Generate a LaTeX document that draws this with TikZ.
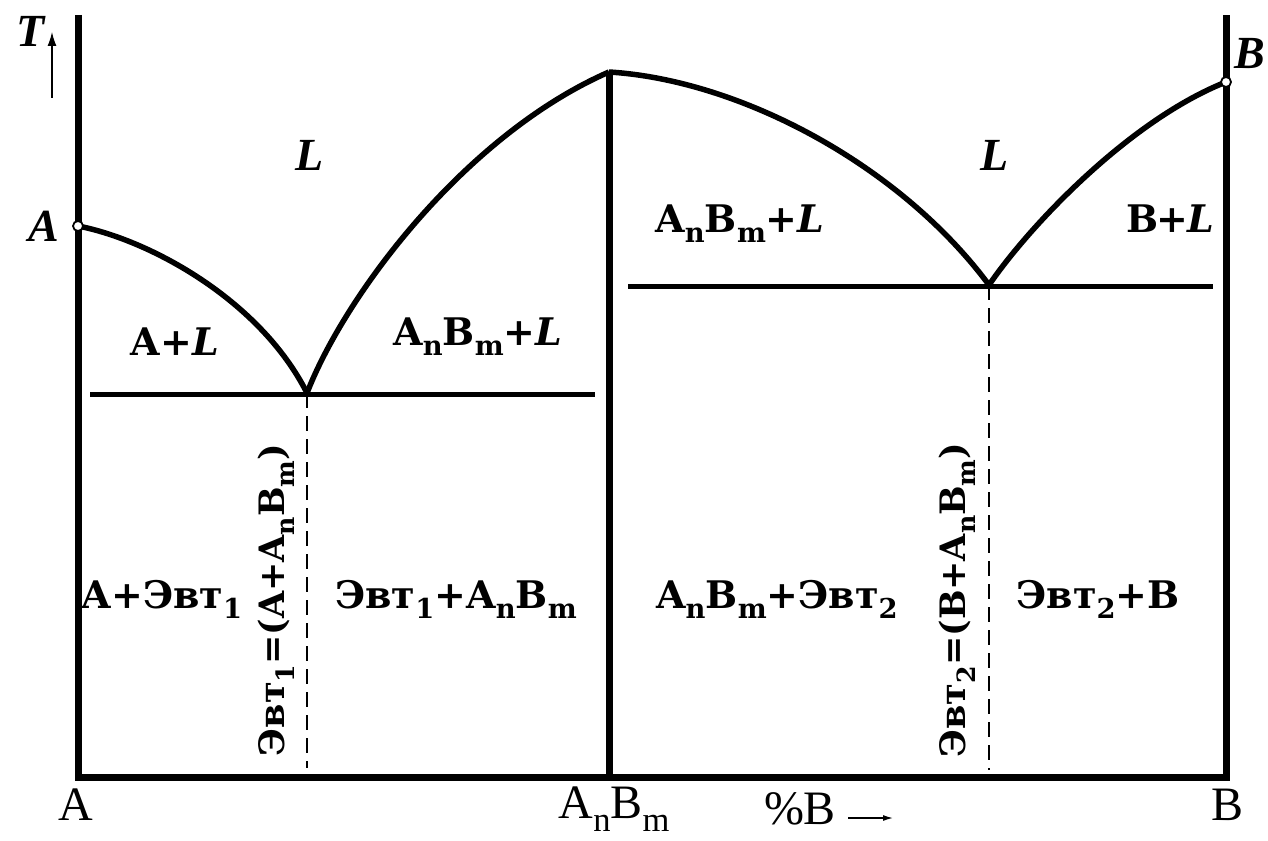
\documentclass[tikz,border=0pt]{standalone}
\usepackage{fontspec}
\usepackage{graphicx}
\setmainfont{DejaVu Serif}
\newfontfamily\libserif{Liberation Serif}
\usetikzlibrary{arrows.meta}
\newcommand\lo[1]{\raisebox{-0.28em}{\scalebox{0.72}{#1}}}
\newcommand\AnBm{A\lo{n}B\lo{m}}
\newcommand\Evt{Эвт}
\begin{document}
\begin{tikzpicture}[x=1pt,y=-1pt,
  axis/.style={line width=7pt},
  phase/.style={line width=5.5pt},
  tie/.style={line width=5pt},
  eut/.style={line width=2.2pt, dash pattern=on 15pt off 8pt},
  lab/.style={font=\fontsize{38}{44}\selectfont\bfseries, inner sep=0pt},
  rlab/.style={font=\fontsize{35}{40}\selectfont\bfseries, inner sep=0pt, rotate=90},
  ital/.style={font=\libserif\fontsize{46}{50}\selectfont\bfseries\itshape, inner sep=0pt},
  bot/.style={font=\libserif\fontsize{48}{52}\selectfont, inner sep=0pt, anchor=base},
  melt/.style={circle, draw, fill=white, line width=1.8pt, minimum size=10pt, inner sep=0pt}]
\useasboundingbox (0,0) rectangle (1268,840);
\fill[white] (0,0) rectangle (1268,840);
% key points
\coordinate (ltop) at (78,15);
\coordinate (O) at (78,777);
\coordinate (rbot) at (1226,777);
\coordinate (rtop) at (1226,15);
\coordinate (peak) at (609,72);
\coordinate (mbot) at (609,777);
\coordinate (e1) at (307,393);
\coordinate (e2) at (989,285);
\coordinate (cA) at (78,226);
\coordinate (cB) at (1226,82);
\coordinate (t1l) at (90,394);
\coordinate (t1r) at (595,394);
\coordinate (t2l) at (628,286);
\coordinate (t2r) at (1213,286);
\coordinate (d1) at (307,768);
\coordinate (d2) at (989,770);
% axes
\draw[axis, miter limit=10] (ltop) -- (O) -- (rbot) -- (rtop);
\draw[axis] (peak) -- (mbot);
% liquidus
\draw[phase] (cA) .. controls (150,240) and (260,300) .. (e1);
\draw[phase] (e1) .. controls (345,295) and (465,135) .. (peak);
\draw[phase] (peak) .. controls (740,80) and (900,165) .. (e2);
\draw[phase] (e2) .. controls (1030,225) and (1130,120) .. (cB);
% eutectic lines
\draw[tie] (t1l) -- (t1r);
\draw[tie] (t2l) -- (t2r);
\draw[eut] (e1) -- (d1);
\draw[eut] (e2) -- (d2);
% melting points
\node[melt] (mA) at (cA) {};
\node[melt] (mB) at (cB) {};
% T axis
\node[ital] (T) at (31,31) {T};
\coordinate (Tb) at (52,98);
\coordinate (Tt) at (52,32);
\draw[line width=1.3pt, -{Latex[length=14pt,width=9pt]}] (Tb) -- (Tt);
\node[ital] (lA) at (44,226) {A};
\node[ital] (lB) at (1250,54) {B};
% region labels
\node[ital, anchor=base] (L1) at (310,170) {L};
\node[ital, anchor=base] (L2) at (995,170) {L};
\node[lab, anchor=base] (r1) at (175,355) {A+\textit{L}};
\node[lab, anchor=base] (r2) at (478,345) {\AnBm+\textit{L}};
\node[lab, anchor=base] (r3) at (740,232) {\AnBm+\textit{L}};
\node[lab, anchor=base east] (r4) at (1214,232) {B\kern-2pt+\kern-1pt\textit{L}};
\node[lab, anchor=base] (r5) at (162,608) {A+\Evt\lo{1}};
\node[lab, anchor=base] (r6) at (456,608) {\Evt\lo{1}+\AnBm};
\node[lab, anchor=base] (r7) at (777,608) {\AnBm+\Evt\lo{2}};
\node[lab, anchor=base] (r8) at (1098,608) {\Evt\lo{2}+B};
\node[rlab] (v1) at (276,600) {\Evt\lo{1}=(A+\AnBm)};
\node[rlab] (v2) at (957,600) {\Evt\lo{2}=(B+\AnBm)};
% bottom labels
\node[bot] (bA) at (76,820) {A};
\node[bot] (bAB) at (614,818) {\AnBm};
\node[bot] (bpc) at (800,824) {\%B};
\node[bot] (bB) at (1227,820) {B};
\coordinate (xa) at (848,818);
\coordinate (xb) at (893,818);
\draw[line width=1.3pt, -{Latex[length=10pt,width=6pt]}] (xa) -- (xb);
\end{tikzpicture}
\end{document}
